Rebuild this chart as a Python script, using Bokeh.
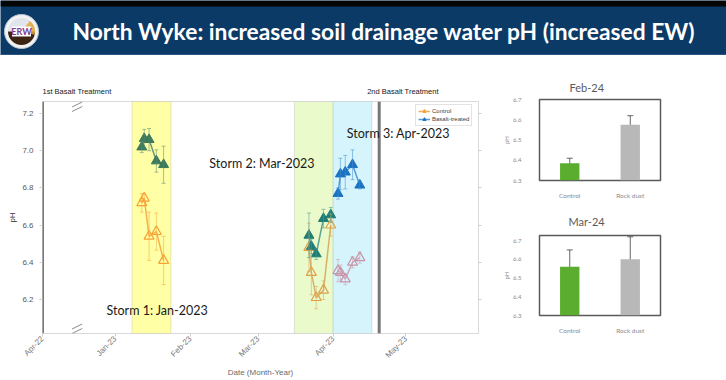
import math
import pandas as pd
from bokeh.plotting import figure
from bokeh.layouts import column, row
from bokeh.models import (ColumnDataSource, Whisker, TeeHead, BoxAnnotation, Span, Label,
                          Legend, LegendItem, FixedTicker, LinearAxis, NumeralTickFormatter,
                          Arrow, FactorRange, Range1d)
from bokeh.core.properties import value
from bokeh.embed import file_html
from bokeh.resources import INLINE

# ------------------------------------------------------------------ data
TITLE = "North Wyke: increased soil drainage water pH (increased EW)"

tick_dates = ["2022-04-01", "2023-01-01", "2023-02-01", "2023-03-01", "2023-04-01", "2023-05-01"]
tick_labels = ["Apr-22", "Jan-23", "Feb-23", "Mar-23", "Apr-23", "May-23"]
ph_ticks = [6.2, 6.4, 6.6, 6.8, 7.0, 7.2]

storm_labels = ["Storm 1: Jan-2023", "Storm 2: Mar-2023", "Storm 3: Apr-2023"]
storm_start = ["2023-01-08", "2023-03-16", "2023-04-01"]
storm_end = ["2023-01-24", "2023-04-01", "2023-04-17"]

treatment_labels = ["1st Basalt Treatment", "2nd Basalt Treatment"]
treatment_dates = ["2022-04-01", "2023-04-20"]

storm1_dates = ["2023-01-12", "2023-01-13", "2023-01-15", "2023-01-18", "2023-01-21"]
storm1_basalt = [7.02, 7.065, 7.06, 6.945, 6.925]
storm1_basalt_err = [0.03, 0.05, 0.06, 0.06, 0.10]
storm1_control = [6.72, 6.745, 6.54, 6.565, 6.41]
storm1_control_err = [0.05, 0.02, 0.13, 0.10, 0.13]

storm2_dates = ["2023-03-22", "2023-03-23", "2023-03-25", "2023-03-28", "2023-03-31"]
storm2_basalt = [6.545, 6.485, 6.445, 6.635, 6.655]
storm2_basalt_err = [0.12, 0.04, 0.03, 0.05, 0.04]
storm2_control = [6.48, 6.345, 6.21, 6.25, 6.60]
storm2_control_err = [0.13, 0.12, 0.06, 0.05, 0.06]

storm3_dates = ["2023-04-03", "2023-04-04", "2023-04-06", "2023-04-09", "2023-04-12"]
storm3_basalt = [6.77, 6.875, 6.885, 6.925, 6.815]
storm3_basalt_err = [0.03, 0.085, 0.09, 0.08, 0.02]
storm3_control = [6.355, 6.345, 6.31, 6.40, 6.425]
storm3_control_err = [0.06, 0.04, 0.03, 0.03, 0.03]

bar_categories = ["Control", "Rock dust"]
feb24_ph = [6.385, 6.575]
feb24_err = [0.025, 0.045]
mar24_ph = [6.56, 6.60]
mar24_err = [0.09, 0.12]

# ------------------------------------------------------------------ helpers
ORIGIN = pd.Timestamp("2023-01-01")
PRE_BREAK_POS = -30      # where pre-2023 dates sit (left of the axis break)
AXIS_BREAK = -15.7
X0, X1 = -30, 150
Y0, Y1 = 6.017, 7.265


def xpos(d):
    t = pd.Timestamp(d)
    if t < ORIGIN:
        return PRE_BREAK_POS
    return (t - ORIGIN) / pd.Timedelta(days=1)


FONT_AX = "Liberation Sans"
FONT_TXT = "Lato"

# ------------------------------------------------------------------ header
W = 726
HH = 55
header = figure(width=W, height=HH, x_range=(0, W), y_range=(0, HH), min_border=0,
                toolbar_location=None, output_backend="svg", title=None)
header.axis.visible = False
header.grid.visible = False
header.outline_line_color = None
header.background_fill_color = "#0b3a66"
header.border_fill_color = "#0b3a66"
header.quad(left=[0], right=[W], bottom=[HH - 6], top=[HH], fill_color="#050505", line_color=None)
header.quad(left=[0], right=[W], bottom=[0], top=[1.5], fill_color="#2a5580", line_color=None)
# logo
LX, LY = 21, 24
header.circle(x=[LX], y=[LY], radius=17, fill_color="#f2f2f2", line_color="#b9c6d2", line_width=1)
header.wedge(x=[LX], y=[LY], radius=13.5, start_angle=0, end_angle=math.pi,
             fill_color="#dfe5ea", line_color=None)
header.wedge(x=[LX], y=[LY], radius=13.5, start_angle=math.pi, end_angle=2 * math.pi,
             fill_color="#3b2412", line_color=None)
header.wedge(x=[LX], y=[LY], radius=13.5, start_angle=-0.25, end_angle=0.9,
             fill_color="#e2a83a", line_color=None, fill_alpha=0.85)
header.rect(x=[LX], y=[LY], width=19, height=10, fill_color="white", line_color=None)
header.text(x=[LX], y=[LY], text=["ERW"], text_align="center", text_baseline="middle",
            text_font=value(FONT_TXT), text_font_style="bold", text_font_size="9px",
            text_color="#7a3d8f")
header.add_layout(Label(x=72, y=25, text=TITLE, text_align="left", text_baseline="middle",
                        text_font=FONT_TXT, text_font_style="bold",
                        text_font_size="22.8px", text_color="white"))

# ------------------------------------------------------------------ main chart
ML, MR, MT, MB = 42, 22, 4, 47
MW = 500
STRIP_H = 42

p = figure(width=MW, height=380 - HH - STRIP_H, x_range=Range1d(X0, X1), y_range=Range1d(Y0, Y1),
           toolbar_location=None, output_backend="svg", title=None,
           min_border_left=ML, min_border_right=MR, min_border_top=MT, min_border_bottom=MB)
p.grid.visible = False
p.outline_line_color = "#d9d9d9"
p.outline_line_width = 1
p.background_fill_color = "white"

strip = figure(width=MW, height=STRIP_H, x_range=p.x_range, y_range=Range1d(0, STRIP_H),
               min_border_left=ML, min_border_right=MR, min_border_top=0, min_border_bottom=0,
               toolbar_location=None, output_backend="svg", title=None)
strip.axis.visible = False
strip.grid.visible = False
strip.outline_line_color = None
for txt, d, off in zip(treatment_labels, treatment_dates, [0, -12]):
    strip.add_layout(Label(x=xpos(d), y=6, x_offset=off, text=txt, text_align="left",
                           text_baseline="middle", text_font=FONT_AX,
                           text_font_size="7.5px", text_color="#1a1a1a"))

band_fill = ["#ffffa6", "#ebfacb", "#d6f4fb"]
band_line = ["#a8a890", "#9fb0b8", "#8fb0c8"]
for s, e, fc, lc in zip(storm_start, storm_end, band_fill, band_line):
    p.add_layout(BoxAnnotation(left=xpos(s), right=xpos(e), fill_color=fc, fill_alpha=1.0,
                               line_color=lc, line_width=1, level="underlay"))

for d in treatment_dates:
    p.add_layout(Span(location=xpos(d), dimension="height", line_color="#777777",
                      line_width=3, level="underlay"))

series = [
    (storm1_dates, storm1_control, storm1_control_err, "#f7a234", "#f5a640", False),
    (storm1_dates, storm1_basalt, storm1_basalt_err, "#3c7a5c", "#5c8c70", True),
    (storm2_dates, storm2_control, storm2_control_err, "#e0a045", "#d3aa60", False),
    (storm2_dates, storm2_basalt, storm2_basalt_err, "#1f7d74", "#4a9a8e", True),
    (storm3_dates, storm3_control, storm3_control_err, "#c792a8", "#c8a0b0", False),
    (storm3_dates, storm3_basalt, storm3_basalt_err, "#1a72c2", "#4a90d0", True),
]
renders = []
for dates, vals, errs, col, lcol, filled in series:
    src = ColumnDataSource(dict(x=[xpos(d) for d in dates], y=vals,
                                upper=[v + e for v, e in zip(vals, errs)],
                                lower=[v - e for v, e in zip(vals, errs)]))
    wk = Whisker(source=src, base="x", upper="upper", lower="lower", line_color=lcol,
                 line_alpha=0.55, line_width=1, level="glyph",
                 upper_head=TeeHead(size=4, line_color=lcol, line_alpha=0.55, line_width=1),
                 lower_head=TeeHead(size=4, line_color=lcol, line_alpha=0.55, line_width=1))
    p.add_layout(wk)
    lr = p.line("x", "y", source=src, line_color=lcol, line_width=1.5, line_alpha=0.9)
    if filled:
        sr = p.scatter("x", "y", source=src, marker="triangle", size=10,
                       fill_color=col, line_color=col)
    else:
        sr = p.scatter("x", "y", source=src, marker="triangle", size=10,
                       fill_color=None, line_color=col, line_width=1.2)
    renders.append((lr, sr))

legend = Legend(items=[LegendItem(label="Control", renderers=list(renders[0])),
                       LegendItem(label="Basalt-treated", renderers=list(renders[5]))],
                location=(373, 207), label_text_font_size="6px", label_text_font=FONT_AX,
                label_text_color="#404040", glyph_width=12, glyph_height=8, label_height=8,
                label_standoff=2, padding=2, spacing=0, margin=0,
                border_line_color="#c8c8c8", border_line_width=1, background_fill_alpha=1)
p.add_layout(legend)

# storm annotations
storm_label_pos = [(17.4, 6.141), (60.6, 6.93), (116.9, 7.093)]
for txt, (lx, ly) in zip(storm_labels, storm_label_pos):
    p.add_layout(Label(x=lx, y=ly, text=txt, text_align="center", text_baseline="middle",
                       text_font=FONT_TXT, text_font_size="12.5px",
                       text_color="#1a1a1a"))

# axis break marks (kept just inside the frame)
dpx = (Y1 - Y0) / 232.0
for yc in (Y1 - 3 * dpx, Y1 - 7.5 * dpx, Y0 + 7 * dpx, Y0 + 2.5 * dpx):
    p.add_layout(Arrow(end=None, x_start=AXIS_BREAK - 2.1, y_start=yc - 2.5 * dpx,
                       x_end=AXIS_BREAK + 2.1, y_end=yc + 2.5 * dpx,
                       line_color="#8a8a8a", line_width=1))

tick_pos = [int(xpos(d)) for d in tick_dates]
xa = p.xaxis[0]
xa.ticker = FixedTicker(ticks=tick_pos)
xa.major_label_overrides = {tp: lab for tp, lab in zip(tick_pos, tick_labels)}
xa.major_label_orientation = math.pi / 4
xa.major_label_text_font = FONT_AX
xa.major_label_text_font_size = "8px"
xa.major_label_text_color = "#777777"
xa.major_label_standoff = 1
xa.axis_line_color = None
xa.major_tick_out = 3
xa.major_tick_in = 0
xa.major_tick_line_color = "#cfcfcf"
xa.minor_tick_line_color = None
xa.axis_label = "Date (Month-Year)"
xa.axis_label_text_font = FONT_AX
xa.axis_label_text_font_size = "8px"
xa.axis_label_text_font_style = "normal"
xa.axis_label_text_color = "#6a6a6a"
xa.axis_label_standoff = 2

ya = p.yaxis[0]
ya.ticker = FixedTicker(ticks=ph_ticks)
ya.formatter = NumeralTickFormatter(format="0.0")
ya.major_label_text_font = FONT_AX
ya.major_label_text_font_size = "8px"
ya.major_label_text_color = "#595959"
ya.major_label_standoff = 6
ya.axis_line_color = None
ya.major_tick_out = 3
ya.major_tick_in = 0
ya.major_tick_line_color = "#cfcfcf"
ya.minor_tick_line_color = None
ya.axis_label = "pH"
ya.axis_label_text_font = FONT_AX
ya.axis_label_text_font_size = "8px"
ya.axis_label_text_font_style = "normal"
ya.axis_label_text_color = "#333333"
ya.axis_label_standoff = 2

ra = LinearAxis(ticker=FixedTicker(ticks=ph_ticks), major_label_text_font_size="0px",
                major_label_standoff=0, axis_line_color=None, major_tick_out=3,
                major_tick_in=0, major_tick_line_color="#cfcfcf", minor_tick_line_color=None)
p.add_layout(ra, "right")


# ------------------------------------------------------------------ bar charts
RW = W - MW
BL, BFW = 37, 123


def bar_chart(title, vals, errs, height, top_end, b_top, b_bottom, t_off, t_stand):
    f = figure(width=RW, height=height, x_range=FactorRange(*bar_categories, range_padding=0),
               y_range=Range1d(6.3, top_end), toolbar_location=None, output_backend="svg",
               min_border_left=BL, min_border_right=RW - BL - BFW,
               min_border_top=b_top, min_border_bottom=b_bottom)
    f.title.text = title
    f.title.text_font = FONT_TXT
    f.title.text_font_size = "11px"
    f.title.text_font_style = "normal"
    f.title.text_color = "#595959"
    f.title.align = "left"
    f.title.offset = t_off
    f.title.standoff = t_stand
    f.grid.visible = False
    f.outline_line_color = "#5a5a5a"
    f.outline_line_width = 1.5
    src = ColumnDataSource(dict(cat=bar_categories, v=vals,
                                upper=[v + e for v, e in zip(vals, errs)],
                                lower=[v - e for v, e in zip(vals, errs)],
                                color=["#5aad2e", "#b8b8b8"]))
    f.vbar(x="cat", top="v", bottom=6.3, width=0.32, source=src, fill_color="color",
           line_color=None)
    f.add_layout(Whisker(source=src, base="cat", upper="upper", lower="lower",
                         line_color="#404040", line_width=0.8,
                         upper_head=TeeHead(size=6, line_color="#404040", line_width=0.8),
                         lower_head=TeeHead(size=6, line_color="#404040", line_width=0.8)))
    f.xaxis.axis_line_color = None
    f.xaxis.major_tick_line_color = None
    f.xaxis.minor_tick_line_color = None
    f.xaxis.major_label_text_font = FONT_TXT
    f.xaxis.major_label_text_font_size = "6.5px"
    f.xaxis.major_label_text_color = "#8a8a8a"
    f.xaxis.major_label_standoff = 5
    f.yaxis.ticker = FixedTicker(ticks=[6.3, 6.4, 6.5, 6.6, 6.7])
    f.yaxis.formatter = NumeralTickFormatter(format="0.0")
    f.yaxis.axis_line_color = None
    f.yaxis.major_tick_line_color = None
    f.yaxis.minor_tick_line_color = None
    f.yaxis.major_label_text_font = FONT_TXT
    f.yaxis.major_label_text_font_size = "6px"
    f.yaxis.major_label_text_color = "#8a8a8a"
    f.yaxis.major_label_standoff = 12
    f.yaxis.axis_label = "pH"
    f.yaxis.axis_label_text_font = FONT_TXT
    f.yaxis.axis_label_text_font_size = "6px"
    f.yaxis.axis_label_text_font_style = "normal"
    f.yaxis.axis_label_text_color = "#8a8a8a"
    f.yaxis.axis_label_standoff = 0
    return f


feb = bar_chart("Feb-24", feb24_ph, feb24_err, 150, 6.7, 44, 25, 30, 11)
mar = bar_chart("Mar-24", mar24_ph, mar24_err, 380 - HH - 150, 6.727, 30, 65, 29, 15)

layout = column(header,
                row(column(strip, p, spacing=0), column(feb, mar, spacing=0), spacing=0),
                spacing=0)
open("out.html", "w").write(file_html(layout, INLINE, title="North Wyke"))
